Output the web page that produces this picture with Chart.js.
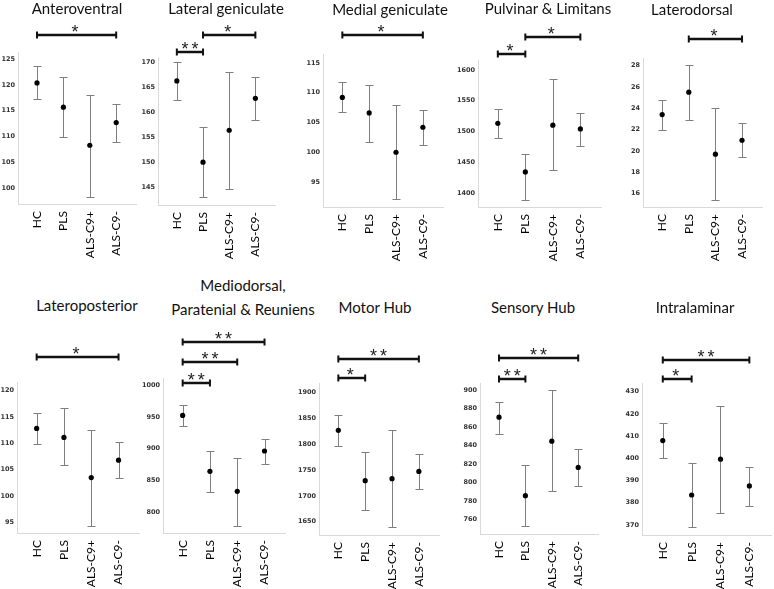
<!DOCTYPE html>
<html>
<head>
<meta charset="utf-8">
<script src="https://cdn.jsdelivr.net/npm/chart.js@4.4.1/dist/chart.umd.min.js"></script>
<style>
  body { margin: 0; background: #fff; }
  #fig { position: relative; width: 774px; height: 589px; overflow: hidden; }
  #fig canvas { position: absolute; }
  .ttl { position: absolute; width: 240px; text-align: center; font-family: Lato, "Liberation Sans", sans-serif;
         font-size: 15px; line-height: 18px; color: #111; white-space: nowrap; }
</style>
</head>
<body>
<div id="fig"></div>
<script>
// groups on the x axis
const groups = ['HC', 'PLS', 'ALS-C9+', 'ALS-C9-'];

const regionNames = ['Anteroventral', 'Lateral geniculate', 'Medial geniculate', 'Pulvinar & Limitans', 'Laterodorsal',
    'Lateroposterior', ['Mediodorsal,', 'Paratenial & Reuniens'], 'Motor Hub', 'Sensory Hub', 'Intralaminar'];

// estimated means and 95% CI per region (HC, PLS, ALS-C9+, ALS-C9-)
const means = [
    [120.4, 115.7, 108.3, 112.7],
    [166.3, 150.0, 156.4, 162.8],
    [109.2, 106.6, 100.0, 104.2],
    [1513, 1434, 1510, 1504],
    [23.4, 25.5, 19.7, 21.0],
    [112.8, 111.1, 103.5, 106.8],
    [952.6, 864.2, 832.6, 896.3],
    [1827, 1729.5, 1733.3, 1747.5],
    [870.6, 785.9, 844.7, 816.4],
    [408.0, 383.5, 399.6, 387.6]
];
const upperCI = [
    [123.6, 121.6, 118.1, 116.3],
    [170.1, 157.1, 168.1, 167.1],
    [111.8, 111.3, 107.9, 107.1],
    [1536, 1463, 1585, 1530],
    [24.8, 28.0, 24.0, 22.6],
    [115.7, 116.7, 112.5, 110.2],
    [969.5, 896.3, 885.8, 915.8],
    [1857.4, 1785.7, 1828.3, 1781.8],
    [887.4, 819.2, 900.0, 836.5],
    [415.8, 398.1, 423.7, 396.3]
];
const lowerCI = [
    [117.2, 109.9, 98.3, 109.0],
    [162.5, 143.0, 144.7, 158.4],
    [106.7, 101.8, 92.1, 101.2],
    [1489, 1389, 1437, 1476],
    [22.0, 22.9, 15.4, 19.4],
    [109.9, 105.8, 94.4, 103.5],
    [935.3, 831.6, 778.4, 876.3],
    [1797.3, 1672, 1639, 1712.7],
    [852.6, 752.8, 790.5, 795.9],
    [400.3, 369.0, 375.6, 378.6]
];

const yTicks = [
    [100, 105, 110, 115, 120, 125],
    [145, 150, 155, 160, 165, 170],
    [95, 100, 105, 110, 115],
    [1400, 1450, 1500, 1550, 1600],
    [16, 18, 20, 22, 24, 26, 28],
    [95, 100, 105, 110, 115, 120],
    [800, 850, 900, 950, 1000],
    [1650, 1700, 1750, 1800, 1850, 1900],
    [760, 780, 800, 820, 840, 860, 880, 900],
    [370, 380, 390, 400, 410, 420, 430]
];
const yRange = [
    [96.9, 126.4], [141.4, 171.1], [90.8, 116.5], [1377, 1616], [14.75, 28.7],
    [93.0, 121.6], [766.6, 1011.8], [1624.2, 1918.8], [744.6, 907.5], [365.5, 433.9]
];

// significance brackets: [from group, to group, label]
const sigPairs = [
    [[0, 3, '*']],
    [[0, 1, '**'], [1, 3, '*']],
    [[0, 3, '*']],
    [[0, 1, '*'], [1, 3, '*']],
    [[1, 3, '*']],
    [[0, 3, '*']],
    [[0, 1, '**'], [0, 2, '**'], [0, 3, '**']],
    [[0, 1, '*'], [0, 3, '**']],
    [[0, 1, '**'], [0, 3, '**']],
    [[0, 1, '*'], [0, 3, '**']]
];

// layout only: plot area in page px, category step, bracket heights above plot top, title placement
const panelBox = [
    {left: 18, top: 52, bottom: 204, step: 26.3},
    {left: 158, top: 57, bottom: 205, step: 26.1},
    {left: 323, top: 54, bottom: 207, step: 26.8},
    {left: 478, top: 60, bottom: 207, step: 27.5},
    {left: 643, top: 58, bottom: 207, step: 26.6},
    {left: 17, top: 382, bottom: 533, step: 27.2},
    {left: 163, top: 378, bottom: 533, step: 27.2},
    {left: 319, top: 383, bottom: 535, step: 26.9},
    {left: 480, top: 383, bottom: 534, step: 26.4},
    {left: 642, top: 383, bottom: 535, step: 28.9}
];
const bracketRise = [[17], [5, 22], [19], [6, 23], [19], [25], [-5, 16, 36], [5, 24], [4, 25], [4, 23]];
const titlePos = [[77, 14], [226, 14], [390, 15], [548, 14], [692, 15], [87, 311], [243, 291], [375, 313], [533, 313], [695, 313]];

const Y_W = 24, PR = 6, PT = 60, X_H = 56;
const X_MIN = -0.72, X_MAX = 3.75;

const errorBars = {
    id: 'errorBars',
    beforeDatasetsDraw(chart) {
        const {ctx, scales: {x, y}} = chart;
        const ds = chart.data.datasets[0];
        ctx.save();
        ctx.strokeStyle = '#7f7f7f';
        ctx.lineWidth = 1;
        ds.ciLo.forEach((lo, i) => {
            const px = Math.round(x.getPixelForValue(i)) + 0.5;
            const yHi = Math.round(y.getPixelForValue(ds.ciHi[i])) + 0.5;
            const yLo = Math.round(y.getPixelForValue(lo)) + 0.5;
            ctx.beginPath();
            ctx.moveTo(px, yHi); ctx.lineTo(px, yLo);
            ctx.moveTo(px - 4, yHi); ctx.lineTo(px + 4, yHi);
            ctx.moveTo(px - 4, yLo); ctx.lineTo(px + 4, yLo);
            ctx.stroke();
        });
        ctx.restore();
    }
};

const makeBrackets = (pairs, rises) => ({
    id: 'brackets',
    afterDraw(chart) {
        const {ctx, chartArea, scales: {x}} = chart;
        ctx.save();
        pairs.forEach(([a, b, label], j) => {
            const y = Math.round(chartArea.top - rises[j]);
            const x1 = x.getPixelForValue(a), x2 = x.getPixelForValue(b);
            ctx.strokeStyle = '#111';
            ctx.lineWidth = 2.5;
            ctx.beginPath();
            ctx.moveTo(x1, y); ctx.lineTo(x2, y);
            ctx.stroke();
            ctx.lineWidth = 2;
            ctx.beginPath();
            ctx.moveTo(x1, y - 3.5); ctx.lineTo(x1, y + 3.5);
            ctx.moveTo(x2, y - 3.5); ctx.lineTo(x2, y + 3.5);
            ctx.stroke();
            ctx.fillStyle = '#222';
            ctx.font = '18px "Liberation Sans", sans-serif';
            ctx.textAlign = 'center';
            ctx.textBaseline = 'alphabetic';
            ctx.letterSpacing = '3px';
            ctx.fillText(label, (x1 + x2) / 2 + (label.length > 1 ? 1.5 : 0), y + 3);
        });
        ctx.restore();
    }
});

const fig = document.getElementById('fig');

regionNames.forEach((name, k) => {
    const b = panelBox[k];
    const plotW = Math.round((X_MAX - X_MIN) * b.step);
    const cv = document.createElement('canvas');
    cv.width = plotW + Y_W + PR;
    cv.height = b.bottom - b.top + PT + X_H;
    cv.style.left = (b.left - Y_W) + 'px';
    cv.style.top = (b.top - PT) + 'px';
    fig.appendChild(cv);

    const lines = Array.isArray(name) ? name : [name];
    lines.forEach((txt, l) => {
        const d = document.createElement('div');
        d.className = 'ttl';
        d.textContent = txt;
        d.style.left = (titlePos[k][0] - 120) + 'px';
        d.style.top = (titlePos[k][1] + l * 24 - 14.8) + 'px';
        fig.appendChild(d);
    });

    new Chart(cv, {
        type: 'scatter',
        data: {
            datasets: [{
                data: means[k].map((m, i) => ({x: i, y: m})),
                ciHi: upperCI[k],
                ciLo: lowerCI[k],
                pointRadius: 2.6,
                pointBackgroundColor: '#000',
                pointBorderWidth: 0
            }]
        },
        options: {
            responsive: false,
            animation: false,
            layout: {padding: {top: PT, right: PR, left: 0, bottom: 0}},
            plugins: {legend: {display: false}, tooltip: {enabled: false}, title: {display: false}},
            scales: {
                x: {
                    type: 'linear',
                    min: X_MIN,
                    max: X_MAX,
                    afterBuildTicks: axis => { axis.ticks = groups.map((g, i) => ({value: i})); },
                    afterFit: axis => { axis.height = X_H; },
                    grid: {display: false, drawTicks: false},
                    border: {display: true, color: '#d9d9d9', width: 1},
                    ticks: {
                        callback: v => groups[v],
                        minRotation: 90,
                        maxRotation: 90,
                        autoSkip: false,
                        padding: 7,
                        color: '#000',
                        font: {family: 'Lato, "Liberation Sans", sans-serif', size: 12}
                    }
                },
                y: {
                    min: yRange[k][0],
                    max: yRange[k][1],
                    afterBuildTicks: axis => { axis.ticks = yTicks[k].map(v => ({value: v})); },
                    afterFit: axis => { axis.width = Y_W; },
                    grid: {display: false, drawTicks: false},
                    border: {display: true, color: '#d9d9d9', width: 1},
                    ticks: {
                        callback: v => String(v),
                        padding: 3,
                        color: '#333',
                        font: {family: '"DejaVu Sans", sans-serif', size: 6.5, weight: 'bold'}
                    }
                }
            }
        },
        plugins: [errorBars, makeBrackets(sigPairs[k], bracketRise[k])]
    });
});
</script>
</body>
</html>
